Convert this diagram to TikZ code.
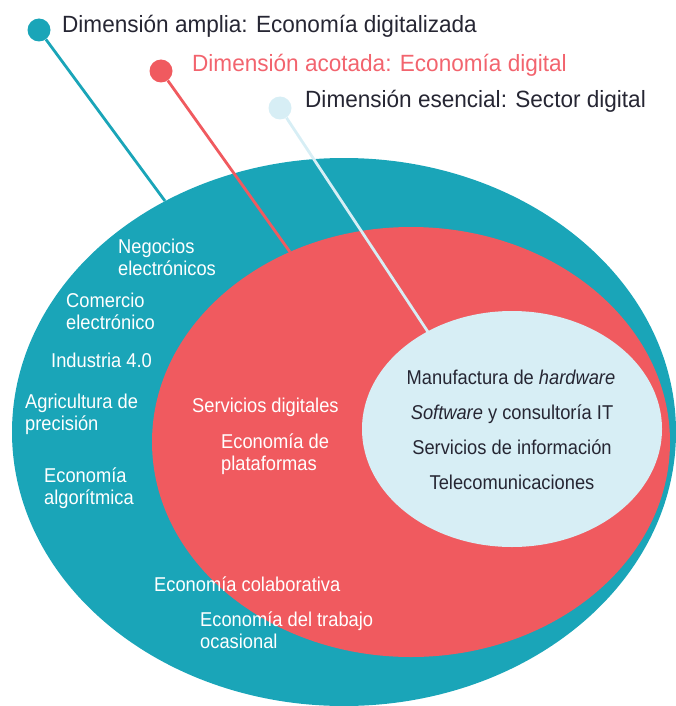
\documentclass[tikz,border=0pt]{standalone}
\usepackage{fontspec}
\setmainfont{Liberation Sans}
\newfontfamily\titlefont{Liberation Sans}[FakeStretch=0.96]
\newfontfamily\bodyfont{Liberation Sans}[FakeStretch=0.915]
\usetikzlibrary{shapes.geometric}
\definecolor{cteal}{HTML}{1AA5B8}
\definecolor{cred}{HTML}{F05A5F}
\definecolor{clight}{HTML}{D7EEF5}
\definecolor{ctitlered}{HTML}{F2646E}
\definecolor{cdark}{HTML}{262633}
\tikzset{
  zone/.style={ellipse, inner sep=0pt, draw=none},
  dotmark/.style={circle, inner sep=0pt, minimum size=23pt, fill=#1},
  leader/.style={line width=2.8pt, draw=#1},
  titletext/.style={font=\titlefont\fontsize{23.5}{26}\selectfont, anchor=base west, inner sep=0pt},
  bodytext/.style={font=\bodyfont\fontsize{20}{22}\selectfont, inner sep=0pt},
  whitetext/.style={bodytext, text=white, anchor=base west},
  innertext/.style={bodytext, text=cdark, anchor=base},
}
\newcommand{\twolines}[2]{\begin{tabular}[t]{@{}l@{}}#1\\#2\end{tabular}}
\begin{document}
\begin{tikzpicture}[x=1pt, y=-1pt]
\useasboundingbox (0,0) rectangle (675,706);
% zones
\node[zone, fill=cteal, minimum width=664pt, minimum height=548pt] (amplia) at (344,432) {};
\node[zone, fill=cred, minimum width=518pt, minimum height=430pt] (acotada) at (411,442) {};
\node[zone, fill=clight, minimum width=300pt, minimum height=236pt] (esencial) at (512,429) {};
% leader ends on the zone borders
\coordinate (endA) at (165,201);
\coordinate (endB) at (290,252);
\coordinate (endC) at (428,332);
% dots
\node[dotmark=cteal] (dotA) at (39,30) {};
\node[dotmark=cred] (dotB) at (161,71) {};
\node[dotmark=clight] (dotC) at (280,108) {};
\draw[leader=cteal] (dotA) -- (endA);
\draw[leader=cred] (dotB) -- (endB);
\draw[leader=clight] (dotC) -- (endC);
% titles
\node[titletext, text=cdark] (tA) at (62,33) {Dimensión amplia: Economía digitalizada};
\node[titletext, text=ctitlered] (tB) at (192,72) {Dimensión acotada: Economía digital};
\node[titletext, text=cdark] (tC) at (305,108) {Dimensión esencial: Sector digital};
% outer zone items
\node[whitetext] (negocios) at (118,253) {\twolines{Negocios}{electrónicos}};
\node[whitetext] (comercio) at (66,307) {\twolines{Comercio}{electrónico}};
\node[whitetext] (industria) at (51,367) {Industria 4.0};
\node[whitetext] (agricultura) at (25,408) {\twolines{Agricultura de}{precisión}};
\node[whitetext] (algoritmica) at (44,482) {\twolines{Economía}{algorítmica}};
% middle zone items
\node[whitetext] (servicios) at (192,412) {Servicios digitales};
\node[whitetext] (plataformas) at (221,448) {\twolines{Economía de}{plataformas}};
\node[whitetext] (colaborativa) at (154,591) {Economía colaborativa};
\node[whitetext] (ocasional) at (200,626) {\twolines{Economía del trabajo}{ocasional}};
% inner zone items
\node[innertext] (hardware) at (511,384) {Manufactura de \textit{hardware}};
\node[innertext] (software) at (512,419) {\textit{Software} y consultoría IT};
\node[innertext] (informacion) at (512,454) {Servicios de información};
\node[innertext] (telecom) at (512,489) {Telecomunicaciones};
\end{tikzpicture}
\end{document}
